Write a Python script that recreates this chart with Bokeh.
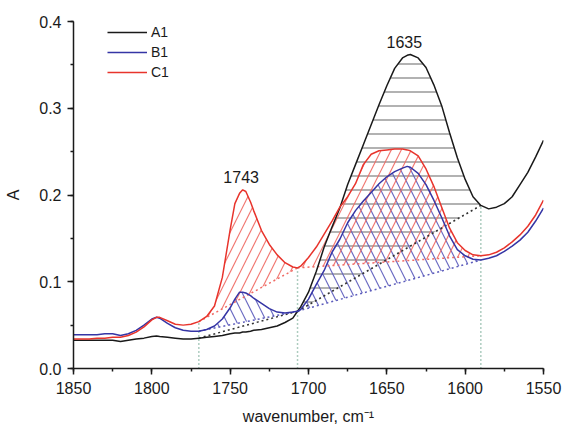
import numpy as np
from bokeh.plotting import figure
from bokeh.models import (Range1d, SingleIntervalTicker, PrintfTickFormatter,
                          Legend, LegendItem)
from bokeh.embed import file_html
from bokeh.resources import INLINE
from bokeh.core.properties import value

# ---------------- data ----------------
wavenumber = [1850, 1845, 1840, 1835, 1830, 1825, 1820, 1815, 1810, 1805, 1800, 1797, 1795,
              1790, 1785, 1780, 1775, 1770, 1765, 1760, 1755, 1750, 1747, 1744, 1742, 1740,
              1737, 1735, 1730, 1725, 1720, 1715, 1710, 1707, 1705, 1700, 1695, 1690, 1685,
              1680, 1675, 1670, 1665, 1660, 1655, 1650, 1645, 1640, 1637, 1635, 1630, 1625,
              1620, 1615, 1610, 1605, 1600, 1595, 1590, 1585, 1580, 1575, 1570, 1565, 1560,
              1555, 1550]

a1 = [0.0325, 0.0325, 0.0325, 0.0325, 0.0325, 0.0325, 0.031, 0.0325, 0.034, 0.035, 0.037, 0.0375, 0.037,
      0.036, 0.035, 0.034, 0.034, 0.035, 0.036, 0.037, 0.038, 0.040, 0.041, 0.041, 0.042, 0.042,
      0.043, 0.044, 0.045, 0.047, 0.049, 0.053, 0.058, 0.066, 0.071, 0.088, 0.112, 0.140, 0.163,
      0.185, 0.212, 0.235, 0.258, 0.281, 0.304, 0.326, 0.346, 0.358, 0.361, 0.362, 0.358, 0.347,
      0.327, 0.303, 0.272, 0.243, 0.218, 0.198, 0.188, 0.184, 0.186, 0.190, 0.198, 0.212, 0.226,
      0.244, 0.263]

b1 = [0.039, 0.039, 0.039, 0.039, 0.040, 0.040, 0.038, 0.040, 0.044, 0.050, 0.057, 0.059, 0.058,
      0.052, 0.047, 0.044, 0.043, 0.043, 0.045, 0.049, 0.057, 0.070, 0.080, 0.088, 0.088, 0.087,
      0.084, 0.081, 0.075, 0.069, 0.065, 0.064, 0.065, 0.066, 0.068, 0.080, 0.097, 0.113, 0.134,
      0.149, 0.168, 0.182, 0.193, 0.203, 0.213, 0.221, 0.227, 0.231, 0.233, 0.232, 0.225, 0.212,
      0.194, 0.174, 0.153, 0.137, 0.130, 0.126, 0.125, 0.127, 0.130, 0.135, 0.141, 0.148, 0.157,
      0.170, 0.185]

c1 = [0.034, 0.034, 0.034, 0.035, 0.035, 0.036, 0.036, 0.038, 0.042, 0.048, 0.056, 0.059, 0.059,
      0.055, 0.051, 0.050, 0.051, 0.054, 0.060, 0.072, 0.105, 0.160, 0.190, 0.202, 0.206, 0.204,
      0.192, 0.182, 0.159, 0.143, 0.131, 0.122, 0.117, 0.116, 0.118, 0.128, 0.140, 0.155, 0.170,
      0.186, 0.198, 0.213, 0.235, 0.247, 0.251, 0.252, 0.253, 0.253, 0.252, 0.251, 0.245, 0.230,
      0.210, 0.186, 0.162, 0.145, 0.136, 0.131, 0.130, 0.131, 0.134, 0.139, 0.146, 0.154, 0.164,
      0.177, 0.194]

series_names = ["A1", "B1", "C1"]
integration_limits = [1770, 1707, 1590]
peak_labels = ["1743", "1635"]
x_title = "wavenumber, cm⁻¹"
y_title = "A"

# ---------------- style ----------------
FONT = "Liberation Sans"
col = {"A1": "#1a1a1a", "B1": "#3535a5", "C1": "#e8342c"}
hatch_col = {"A1": "#707070", "B1": "#5c5cbc", "C1": "#f06a64"}
hatch_pat = {"A1": "-", "B1": "\\", "C1": "/"}
hatch_sc = {"A1": 14, "B1": 20, "C1": 20}
ys = {"A1": np.array(a1), "B1": np.array(b1), "C1": np.array(c1)}
xs = np.array(wavenumber, dtype=float)
order = np.argsort(xs)


def yat(name, x):
    return float(np.interp(x, xs[order], ys[name][order]))


def band(name, xa, xb):
    m = (xs < xa) & (xs > xb)
    px = [xa] + list(xs[m]) + [xb]
    py = [yat(name, xa)] + list(ys[name][m]) + [yat(name, xb)]
    return px, py


p = figure(width=565, height=427, x_range=Range1d(1850, 1550), y_range=Range1d(0, 0.4),
           output_backend="svg", toolbar_location=None,
           min_border_left=73, min_border_right=22, min_border_top=21, min_border_bottom=58)
p.outline_line_color = None
p.xgrid.visible = False
p.ygrid.visible = False
p.background_fill_color = "white"

# hatched bands
bands = [("A1", 1, 2), ("C1", 0, 1), ("B1", 0, 1), ("B1", 1, 2), ("C1", 1, 2)]
for name, i, j in bands:
    px, py = band(name, integration_limits[i], integration_limits[j])
    p.patch(px, py, fill_color=None, line_color=None, hatch_pattern=hatch_pat[name],
            hatch_color=hatch_col[name], hatch_alpha=0.9, hatch_scale=hatch_sc[name],
            hatch_weight=1.2)

# dotted baselines
for name, i, j in [("A1", 0, 1), ("B1", 0, 1), ("C1", 0, 1), ("A1", 1, 2), ("B1", 1, 2), ("C1", 1, 2)]:
    xa, xb = integration_limits[i], integration_limits[j]
    p.line([xa, xb], [yat(name, xa), yat(name, xb)],
           line_color=hatch_col[name] if name != "A1" else "#333333",
           line_dash="2 3", line_width=1.5)

# green dotted vertical limits
tops = [max(yat(n, x) for n in series_names) for x in integration_limits]
p.segment(x0=integration_limits, y0=[0] * 3, x1=integration_limits, y1=tops,
          line_color="#5c9a80", line_dash="1 3", line_width=1.5)

# curves
rends = {}
for name in series_names:
    rends[name] = p.line(xs, ys[name], line_color=col[name], line_width=1.5)

# peak labels
p.text(x=[float(peak_labels[0])], y=[0.221], text=[peak_labels[0]], text_align="center",
       text_baseline="middle", text_font=value(FONT), text_font_size="16px", text_color="#1a1a1a")
p.text(x=[float(peak_labels[1])], y=[0.3765], text=[peak_labels[1]], text_align="center",
       text_baseline="middle", text_font=value(FONT), text_font_size="16px", text_color="#1a1a1a",
       x_offset=-6)

# axes
p.xaxis.ticker = SingleIntervalTicker(interval=50, num_minor_ticks=2)
p.yaxis.ticker = SingleIntervalTicker(interval=0.1, num_minor_ticks=2)
p.xaxis.formatter = PrintfTickFormatter(format="%d")
p.yaxis.formatter = PrintfTickFormatter(format="%.1f")
for ax in (p.xaxis, p.yaxis):
    ax.major_tick_out = 6
    ax.major_tick_in = 0
    ax.minor_tick_out = 3
    ax.minor_tick_in = 0
    ax.axis_line_width = 1.5
    ax.major_tick_line_width = 1.5
    ax.minor_tick_line_width = 1.5
    ax.axis_line_color = "#1a1a1a"
    ax.major_tick_line_color = "#1a1a1a"
    ax.minor_tick_line_color = "#1a1a1a"
    ax.major_label_text_font = FONT
    ax.major_label_text_font_size = "16px"
    ax.major_label_text_color = "#1a1a1a"
    ax.axis_label_text_font = FONT
    ax.axis_label_text_font_size = "16px"
    ax.axis_label_text_font_style = "normal"
    ax.axis_label_text_color = "#1a1a1a"
p.xaxis.axis_label = x_title
p.yaxis.axis_label = y_title
p.xaxis.major_label_standoff = 7
p.xaxis.axis_label_standoff = 11
p.yaxis.major_label_standoff = 6
p.yaxis.axis_label_standoff = 14

legend = Legend(items=[LegendItem(label=n, renderers=[rends[n]]) for n in series_names],
                location=(34, 287), padding=0, spacing=2, glyph_height=18, glyph_width=40,
                label_standoff=4, border_line_color=None, background_fill_alpha=0,
                label_text_font=FONT, label_text_font_size="14px", label_text_color="#1a1a1a",
                label_height=18)
p.add_layout(legend)

open("out.html", "w").write(file_html(p, INLINE))
